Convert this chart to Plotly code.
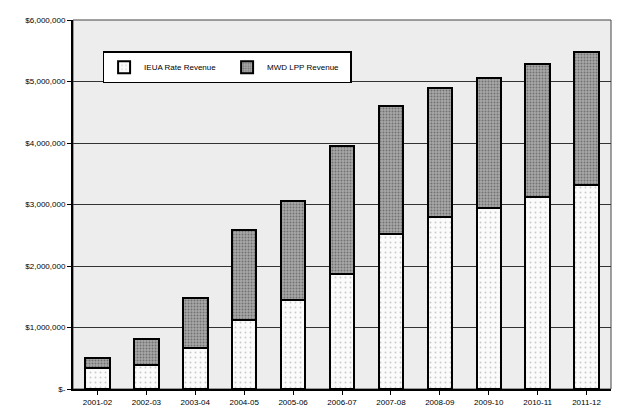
import plotly.graph_objects as go

years = ["2001-02", "2002-03", "2003-04", "2004-05", "2005-06", "2006-07",
         "2007-08", "2008-09", "2009-10", "2010-11", "2011-12"]
ieua_rate = [340000, 390000, 660000, 1130000, 1450000, 1870000,
             2520000, 2790000, 2940000, 3130000, 3320000]
totals = [500000, 810000, 1480000, 2580000, 3050000, 3950000,
          4600000, 4900000, 5060000, 5290000, 5480000]
mwd_lpp = [t - i for t, i in zip(totals, ieua_rate)]

tick_vals = [0, 1000000, 2000000, 3000000, 4000000, 5000000, 6000000]
tick_text = ["$-", "$1,000,000", "$2,000,000", "$3,000,000", "$4,000,000",
             "$5,000,000", "$6,000,000"]

fig = go.Figure()
fig.add_trace(go.Bar(
    x=years, y=ieua_rate, name="IEUA Rate Revenue",
    marker=dict(color="#fbfbfb", line=dict(color="black", width=2),
                pattern=dict(shape=".", fgcolor="#9a9a9a", bgcolor="#fbfbfb",
                             size=5, solidity=0.12)),
))
fig.add_trace(go.Bar(
    x=years, y=mwd_lpp, name="MWD LPP Revenue",
    marker=dict(color="#8c8c8c", line=dict(color="black", width=2),
                pattern=dict(shape=".", fgcolor="#3a3a3a", bgcolor="#a8a8a8",
                             size=3, solidity=0.35)),
))

fig.add_shape(type="rect", xref="paper", yref="paper", x0=0, x1=1, y0=0, y1=1,
              line=dict(color="#444444", width=1), layer="below")

fig.update_layout(
    barmode="stack",
    bargap=0.5,
    width=617, height=413,
    margin=dict(l=73, r=6, t=20, b=21),
    paper_bgcolor="white",
    plot_bgcolor="#ededed",
    font=dict(family="Liberation Sans, Arial, sans-serif", size=8, color="black"),
    showlegend=True,
    legend=dict(
        orientation="h", x=0.055, y=0.915, xanchor="left", yanchor="top",
        bgcolor="white", bordercolor="black", borderwidth=1.5,
        font=dict(size=8), itemwidth=30, traceorder="normal",
        entrywidth=78, entrywidthmode="pixels",
    ),
    xaxis=dict(
        type="category",
        showline=True, linecolor="black", linewidth=2,
        ticks="outside", ticklen=4, tickcolor="black",
        tickfont=dict(size=8), showgrid=False,
    ),
    yaxis=dict(
        range=[0, 6000000], tickvals=tick_vals, ticktext=tick_text,
        showline=True, linecolor="black", linewidth=2,
        ticks="outside", ticklen=4, tickcolor="black",
        showgrid=True, gridcolor="#333333", gridwidth=1,
        tickfont=dict(size=8), zeroline=False,
    ),
)

fig.write_html("out.html")
